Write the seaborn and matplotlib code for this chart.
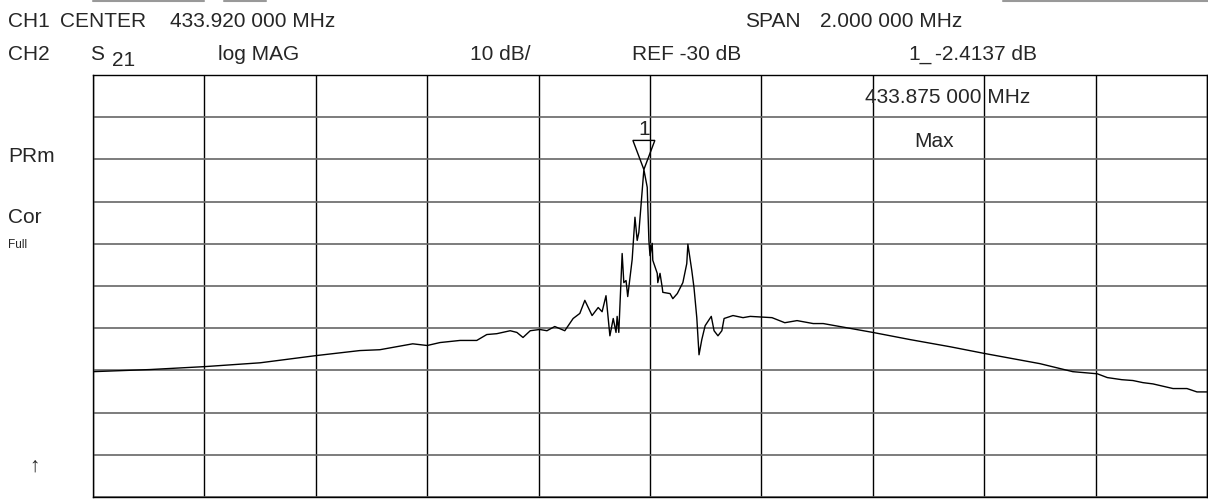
import matplotlib
matplotlib.use("Agg")
import matplotlib.pyplot as plt
import seaborn as sns
import pandas as pd
import numpy as np
from matplotlib.patches import Polygon

# trace of S21, frequency offset from centre (kHz) and magnitude (dB)
center_mhz = 433.920
offset_khz = [-1000, -898, -799, -700, -600, -521, -485, -426, -400, -377,
              -341, -311, -293, -275, -251, -239, -228, -215, -198, -185,
              -171, -153, -138, -126, -117, -104, -93, -86, -79, -72,
              -66, -61, -59, -56, -50, -47, -43, -40, -32, -27,
              -23, -20, -11, -5, -2, 0, 4, 5, 13, 14,
              18, 22, 23, 36, 41, 49, 59, 66, 68, 75,
              79, 84, 88, 93, 99, 110, 115, 122, 129, 133,
              149, 167, 180, 219, 242, 264, 293, 311, 400, 467,
              539, 601, 700, 759, 803, 821, 847, 867, 885, 903,
              939, 964, 982, 1000]
mag_db = [-50.3, -49.8, -49.1, -48.2, -46.5, -45.3, -45.1, -43.7, -44.1, -43.4,
          -42.9, -42.9, -41.5, -41.3, -40.6, -41.0, -42.2, -40.6, -40.3, -40.6,
          -39.6, -40.6, -37.7, -36.5, -33.4, -37.0, -35.1, -36.1, -32.3, -41.8,
          -37.7, -41.0, -37.2, -41.0, -22.3, -29.2, -28.7, -32.5, -23.7, -13.7,
          -19.2, -17.3, -2.4, -6.6, -19.2, -22.8, -19.9, -23.9, -27.0, -29.2,
          -27.0, -30.4, -31.5, -31.8, -33.0, -31.8, -29.2, -24.7, -20.1, -26.3,
          -30.4, -37.5, -46.3, -42.7, -39.4, -37.2, -40.6, -41.8, -40.6, -37.7,
          -37.0, -37.5, -37.2, -37.5, -38.7, -38.2, -38.9, -38.9, -41.0, -42.7,
          -44.4, -46.0, -48.4, -50.3, -50.8, -51.7, -52.2, -52.4, -52.9, -53.2,
          -54.3, -54.3, -55.1, -55.1]

ref_db = -30
scale_db = 10
span_khz = 2000

df = pd.DataFrame({"freq": [center_mhz + o / 1000 for o in offset_khz],
                   "mag": mag_db})

sns.set_theme(style="white")
plt.rcParams["font.family"] = ["Liberation Sans", "DejaVu Sans"]

W, H = 1208, 500
fig = plt.figure(figsize=(W / 100, H / 100), dpi=100)
ax = fig.add_axes([93 / W, 3 / H, 1114 / W, 422 / H])

sns.lineplot(data=df, x="freq", y="mag", ax=ax, color="black",
             linewidth=1.0, sort=False, estimator=None)

x0 = center_mhz - span_khz / 2000
x1 = center_mhz + span_khz / 2000
y0 = ref_db - 5 * scale_db
y1 = ref_db + 5 * scale_db
ax.set_xlim(x0, x1)
ax.set_ylim(y0, y1)
ax.set_xticks(np.linspace(x0, x1, 11))
ax.set_yticks(np.arange(y0, y1 + 1, scale_db))
ax.set_xticklabels([])
ax.set_yticklabels([])
ax.tick_params(length=0)
ax.set_xlabel("")
ax.set_ylabel("")
ax.xaxis.grid(True, color="black", linewidth=1.0)
ax.yaxis.grid(True, color="#666666", linewidth=1.2)
ax.set_axisbelow(True)
for s in ax.spines.values():
    s.set_color("black")
    s.set_linewidth(1.0)

# marker 1 at the peak
i = int(np.argmax(df["mag"]))
px, py = df["freq"][i], df["mag"][i]
hw = 0.0197
hh = 6.9
ax.add_patch(Polygon([(px, py), (px - hw, py + hh), (px + hw, py + hh)],
                     closed=True, fill=False, edgecolor="black", linewidth=1.0))
ax.text(px, py + hh + 1.2, "1", ha="center", va="baseline", fontsize=15)

def t(x, y, s, size=15, **kw):
    fig.text(x / W, 1 - y / H, s, fontsize=size, va="baseline", ha="left", **kw)

# header lines
t(8, 27, "CH1")
t(60, 27, "CENTER")
t(170, 27, "433.920 000 MHz")
t(745, 27, "SPAN")
t(820, 27, "2.000 000 MHz")
t(8, 60, "CH2")
t(90, 60, "S")
t(112, 66, "21")
t(218, 60, "log MAG")
t(470, 60, "10 dB/")
t(632, 60, "REF -30 dB")
t(908, 60, "1_")
t(935, 60, "-2.4137 dB")

# marker readout
t(865, 103, "433.875 000 MHz")
t(914, 147, "Max")

# left annotations
t(8, 162, "PRm")
t(8, 223, "Cor")
t(8, 248, "Full", size=8.5)
t(29, 472, "\u2191", size=15)

# soft-key outlines at the top edge
for a, b in [(93, 204), (224, 266), (1003, 1208)]:
    fig.add_artist(plt.Line2D([a / W, b / W], [1 - 1 / H, 1 - 1 / H],
                              color="#999999", linewidth=1.5))

fig.savefig("out.png", dpi=100, facecolor="white")
